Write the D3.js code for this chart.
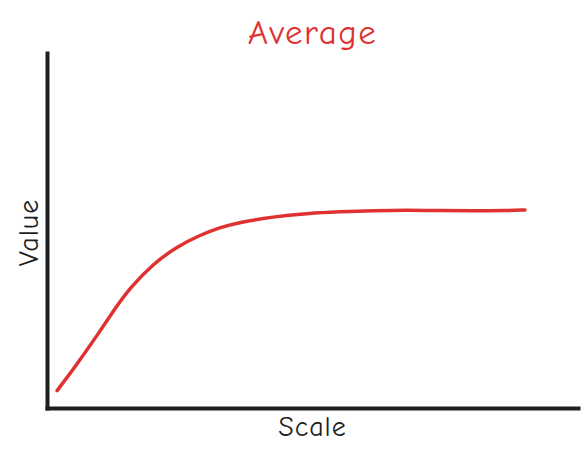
<!DOCTYPE html>
<html>
<head>
<meta charset="utf-8">
<script src="https://cdn.jsdelivr.net/npm/d3@7"></script>
<style>
  html, body { margin: 0; padding: 0; background: #fff; }
  svg { display: block; }
</style>
</head>
<body>
<svg id="chart" width="586" height="453"></svg>
<script>
const title = "Average";
const xLabel = "Scale";
const yLabel = "Value";
const scaleValues = [1.9, 5.3, 9.7, 12.8, 15.6, 20.0, 24.4, 28.8, 32.6, 36.0, 42.6, 48.9, 55.2, 61.4, 67.7, 74.0, 80.3, 86.6, 90.0];
const averageValues = [4.9, 11.6, 21.0, 28.0, 33.8, 40.6, 45.4, 48.7, 50.9, 52.2, 53.9, 54.8, 55.3, 55.6, 55.8, 55.6, 55.5, 55.6, 55.8];

const W = 586, H = 453;
const margin = { left: 47, right: 8, top: 53, bottom: 45 };
const svg = d3.select("#chart");
const font = "Virgil, Excalifont, 'Comic Sans MS', 'Comic Neue', 'Noto Sans', sans-serif";

const x = d3.scaleLinear().domain([0, 100]).range([margin.left, W - margin.right]);
const y = d3.scaleLinear().domain([0, 100]).range([H - margin.bottom, margin.top]);

const data = scaleValues.map((s, i) => ({ s, v: averageValues[i] }));

const line = d3.line().x(d => x(d.s)).y(d => y(d.v)).curve(d3.curveBasis);

svg.append("path")
  .datum(data)
  .attr("d", line)
  .attr("fill", "none")
  .attr("stroke", "#e03131")
  .attr("stroke-width", 3.5)
  .attr("stroke-linecap", "round")
  .attr("stroke-linejoin", "round");

// axes (no ticks)
const xAxis = d3.axisBottom(x).tickValues([]).tickSizeOuter(0);
const yAxis = d3.axisLeft(y).tickValues([]).tickSizeOuter(0);
const gx = svg.append("g").attr("transform", `translate(0,${y(0)})`).call(xAxis);
const gy = svg.append("g").attr("transform", `translate(${x(0)},0)`).call(yAxis);
[gx, gy].forEach(g => g.select(".domain")
  .attr("stroke", "#1e1e1e").attr("stroke-width", 4).attr("stroke-linecap", "square"));

svg.append("text")
  .attr("x", (x(0) + x(100)) / 2).attr("y", 44)
  .attr("text-anchor", "middle")
  .attr("font-family", font).attr("font-size", 35)
  .attr("letter-spacing", 1.5)
  .attr("fill", "#e03131")
  .text(title);

svg.append("text")
  .attr("x", (x(0) + x(100)) / 2).attr("y", 436)
  .attr("text-anchor", "middle")
  .attr("font-family", font).attr("font-size", 28)
  .attr("letter-spacing", 1)
  .attr("fill", "#1e1e1e")
  .text(xLabel);

svg.append("text")
  .attr("transform", `translate(38,${(y(0) + y(100)) / 2 + 2}) rotate(-90)`)
  .attr("text-anchor", "middle")
  .attr("font-family", font).attr("font-size", 28)
  .attr("letter-spacing", 1)
  .attr("fill", "#1e1e1e")
  .text(yLabel);
</script>
</body>
</html>
